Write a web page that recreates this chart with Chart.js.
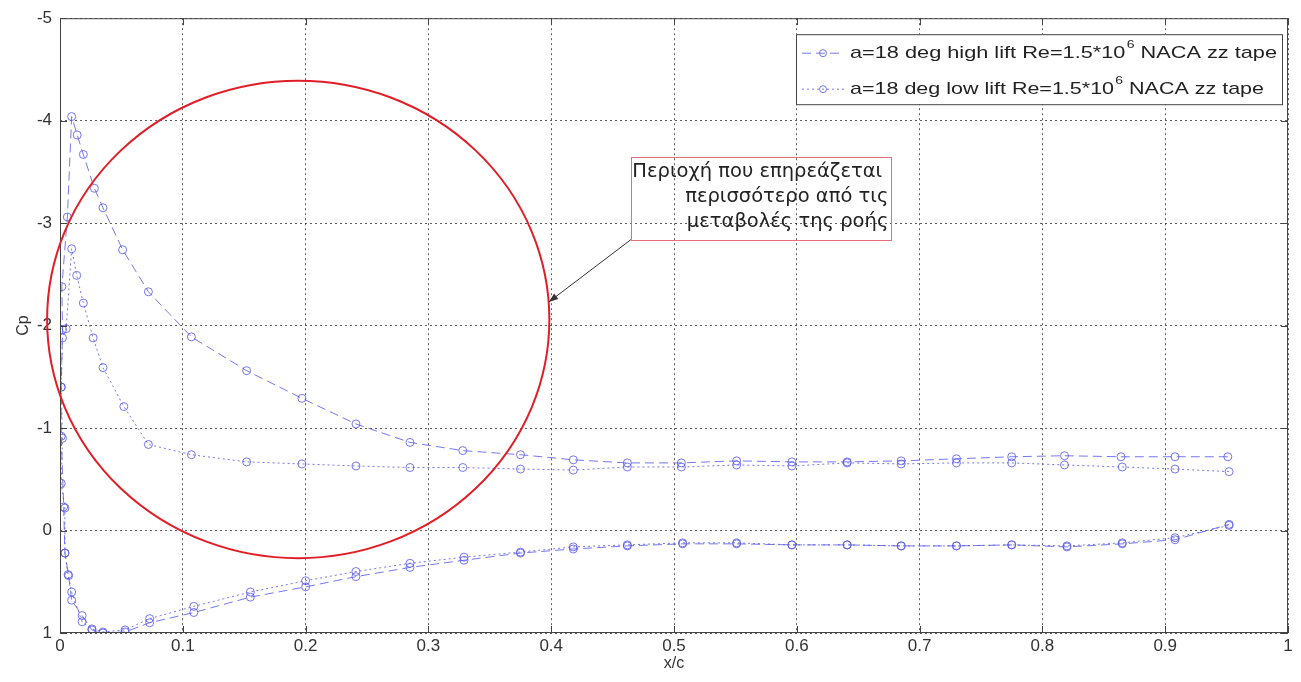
<!DOCTYPE html>
<html>
<head>
<meta charset="utf-8">
<script src="https://cdn.jsdelivr.net/npm/chart.js@4.4.0/dist/chart.umd.min.js"></script>
<style>
  html, body { margin: 0; padding: 0; background: #fff; }
  canvas { display: block; }
</style>
</head>
<body>
<canvas id="cpChart" width="1301" height="682"></canvas>
<script>
// Cp around the section, upper TE -> leading edge -> lower TE
const highX = [0.951, 0.908, 0.864, 0.818, 0.775, 0.730, 0.685, 0.641, 0.596, 0.551, 0.506, 0.462, 0.418, 0.375, 0.328, 0.285, 0.241, 0.197, 0.152, 0.107, 0.072, 0.051, 0.035, 0.028, 0.019, 0.014, 0.0095, 0.006, 0.0015, 0.002, 0.001, 0.001, 0.003, 0.004, 0.007, 0.0095, 0.018, 0.026, 0.035, 0.053, 0.073, 0.109, 0.155, 0.200, 0.241, 0.285, 0.329, 0.375, 0.418, 0.462, 0.507, 0.551, 0.596, 0.641, 0.685, 0.730, 0.775, 0.820, 0.865, 0.908, 0.952];
const highCp = [-0.72, -0.72, -0.72, -0.73, -0.72, -0.70, -0.68, -0.67, -0.67, -0.68, -0.66, -0.66, -0.69, -0.74, -0.78, -0.86, -1.04, -1.29, -1.56, -1.89, -2.33, -2.74, -3.15, -3.34, -3.67, -3.86, -4.04, -3.06, -2.38, -1.96, -1.40, -0.92, -0.23, 0.22, 0.44, 0.68, 0.83, 0.97, 1.00, 0.99, 0.90, 0.80, 0.65, 0.55, 0.45, 0.36, 0.29, 0.22, 0.18, 0.15, 0.13, 0.13, 0.14, 0.14, 0.15, 0.15, 0.14, 0.16, 0.13, 0.09, -0.06];

const lowX = [0.952, 0.908, 0.865, 0.818, 0.775, 0.730, 0.685, 0.641, 0.596, 0.551, 0.506, 0.462, 0.418, 0.375, 0.328, 0.285, 0.241, 0.197, 0.152, 0.107, 0.072, 0.052, 0.035, 0.027, 0.019, 0.0136, 0.0095, 0.005, 0.002, 0.001, 0.002, 0.001, 0.004, 0.004, 0.0066, 0.0095, 0.018, 0.026, 0.035, 0.053, 0.073, 0.109, 0.155, 0.200, 0.241, 0.285, 0.329, 0.375, 0.418, 0.462, 0.507, 0.551, 0.596, 0.641, 0.685, 0.730, 0.775, 0.820, 0.865, 0.908, 0.952];
const lowCp = [-0.575, -0.60, -0.62, -0.64, -0.66, -0.66, -0.65, -0.66, -0.63, -0.64, -0.62, -0.62, -0.59, -0.60, -0.615, -0.615, -0.63, -0.65, -0.67, -0.74, -0.84, -1.21, -1.59, -1.88, -2.22, -2.49, -2.75, -1.97, -1.88, -1.40, -0.90, -0.46, -0.22, 0.22, 0.43, 0.60, 0.89, 0.96, 0.99, 0.97, 0.86, 0.74, 0.60, 0.49, 0.40, 0.32, 0.26, 0.21, 0.16, 0.14, 0.12, 0.12, 0.14, 0.14, 0.15, 0.15, 0.14, 0.15, 0.12, 0.07, -0.05];

const xTicks = [0, 0.1, 0.2, 0.3, 0.4, 0.5, 0.6, 0.7, 0.8, 0.9, 1];
const yTicks = [-5, -4, -3, -2, -1, 0, 1];

// legend text split around the superscript exponent
const legendRows = [
  { pre: 'a=18 deg high lift Re=1.5*10', sup: '6', post: ' NACA zz tape', dash: [9, 5] },
  { pre: 'a=18 deg low lift Re=1.5*10', sup: '6', post: ' NACA zz tape', dash: [2, 3] }
];

const noteLines = ['Περιοχή που επηρεάζεται ', 'περισσότερο από τις', 'μεταβολές της ροής'];

// marked region (ellipse in data units) and the note pointing at it
const region = { cx: 0.194, cy: -2.06, rx: 0.2045, ry: 2.33 };
const noteBox = { x0: 0.465, x1: 0.677, y0: -3.65, y1: -2.84 };
const arrowTip = { x: 0.398, y: -2.23 };

const blue = 'rgba(85,85,235,0.8)';
const toPoints = (xs, ys) => xs.map((v, i) => ({ x: v, y: ys[i] }));

function line(ctx, x1, y1, x2, y2) {
  ctx.beginPath();
  ctx.moveTo(x1, y1);
  ctx.lineTo(x2, y2);
  ctx.stroke();
}

const decorations = {
  id: 'decorations',
  afterDraw(chart) {
    const { ctx, chartArea: a, scales: { x, y } } = chart;
    ctx.save();

    // axes box and inward ticks
    ctx.strokeStyle = '#444';
    ctx.lineWidth = 1;
    ctx.setLineDash([]);
    ctx.strokeRect(a.left + 0.5, a.top + 0.5, a.right - a.left - 1, a.bottom - a.top - 1);
    xTicks.forEach(v => {
      const px = Math.round(x.getPixelForValue(v)) + 0.5;
      line(ctx, px, a.bottom, px, a.bottom - 7);
      line(ctx, px, a.top, px, a.top + 7);
    });
    yTicks.forEach(v => {
      const py = Math.round(y.getPixelForValue(v)) + 0.5;
      line(ctx, a.left, py, a.left + 7, py);
      line(ctx, a.right, py, a.right - 7, py);
    });

    // red ellipse
    const cx = x.getPixelForValue(region.cx);
    const cy = y.getPixelForValue(region.cy);
    const rx = Math.abs(x.getPixelForValue(region.cx + region.rx) - cx);
    const ry = Math.abs(y.getPixelForValue(region.cy + region.ry) - cy);
    ctx.strokeStyle = 'rgb(225,30,40)';
    ctx.lineWidth = 2;
    ctx.beginPath();
    ctx.ellipse(cx, cy, rx, ry, 0, 0, Math.PI * 2);
    ctx.stroke();

    // note box
    const bx0 = x.getPixelForValue(noteBox.x0), bx1 = x.getPixelForValue(noteBox.x1);
    const by0 = y.getPixelForValue(noteBox.y0), by1 = y.getPixelForValue(noteBox.y1);
    ctx.strokeStyle = 'rgb(230,110,120)';
    ctx.lineWidth = 1;
    ctx.strokeRect(Math.round(bx0) + 0.5, Math.round(by0) + 0.5, Math.round(bx1 - bx0), Math.round(by1 - by0));

    ctx.fillStyle = '#222';
    ctx.textAlign = 'right';
    ctx.textBaseline = 'middle';
    let fs = 16;
    ctx.font = fs + 'px "DejaVu Sans"';
    const w0 = ctx.measureText(noteLines[0]).width;
    fs = fs * (bx1 - bx0 - 4) / w0;
    ctx.font = fs.toFixed(1) + 'px "DejaVu Sans"';
    const lh = (by1 - by0) / 3.3;
    noteLines.forEach((t, i) => {
      ctx.fillText(t, bx1 - 3, by0 + lh * (i + 0.62));
    });

    // arrow from the box corner to the ellipse
    const tx = x.getPixelForValue(arrowTip.x), ty = y.getPixelForValue(arrowTip.y);
    ctx.strokeStyle = '#333';
    ctx.fillStyle = '#333';
    line(ctx, bx0, by1, tx, ty);
    const ang = Math.atan2(ty - by1, tx - bx0);
    ctx.beginPath();
    ctx.moveTo(tx, ty);
    ctx.lineTo(tx - 10 * Math.cos(ang - 0.35), ty - 10 * Math.sin(ang - 0.35));
    ctx.lineTo(tx - 10 * Math.cos(ang + 0.35), ty - 10 * Math.sin(ang + 0.35));
    ctx.closePath();
    ctx.fill();

    // legend
    const lx = a.right - 492, ly = a.top + 16, lw = 486, lhgt = 70;
    ctx.fillStyle = '#fff';
    ctx.fillRect(lx, ly, lw, lhgt);
    ctx.strokeStyle = '#444';
    ctx.strokeRect(lx + 0.5, ly + 0.5, lw, lhgt);
    ctx.textAlign = 'left';
    ctx.textBaseline = 'middle';
    const mainFont = '17px "Liberation Sans"', supFont = '11px "Liberation Sans"';
    legendRows.forEach((r, i) => {
      const ry2 = ly + 19 + i * 36;
      ctx.strokeStyle = blue;
      ctx.lineWidth = 1;
      ctx.setLineDash(r.dash);
      line(ctx, lx + 6, ry2, lx + 48, ry2);
      ctx.setLineDash([]);
      ctx.beginPath();
      ctx.arc(lx + 27, ry2, 3.5, 0, Math.PI * 2);
      ctx.stroke();

      // text is drawn wide: stretch each row to its slot
      ctx.font = mainFont;
      const wPre = ctx.measureText(r.pre).width, wPost = ctx.measureText(r.post).width;
      ctx.font = supFont;
      const wSup = ctx.measureText(r.sup).width;
      const total = wPre + 1 + wSup + wPost;
      const target = i === 0 ? 427 : 414;
      ctx.save();
      ctx.translate(lx + 54, ry2);
      ctx.scale(target / total, 1);
      ctx.fillStyle = '#222';
      ctx.font = mainFont;
      ctx.fillText(r.pre, 0, 0);
      ctx.font = supFont;
      ctx.fillText(r.sup, wPre + 1, -8);
      ctx.font = mainFont;
      ctx.fillText(r.post, wPre + 1 + wSup, 0);
      ctx.restore();
    });

    ctx.restore();
  }
};

const fmt = v => String(Number(v.toFixed(1)));

new Chart('cpChart', {
  type: 'scatter',
  data: {
    datasets: [
      {
        label: 'high lift',
        data: toPoints(highX, highCp),
        showLine: true,
        borderColor: blue,
        borderWidth: 1,
        borderDash: [9, 5],
        pointRadius: 4,
        pointBorderWidth: 1,
        pointBorderColor: blue,
        pointBackgroundColor: 'rgba(0,0,0,0)'
      },
      {
        label: 'low lift',
        data: toPoints(lowX, lowCp),
        showLine: true,
        borderColor: blue,
        borderWidth: 1,
        borderDash: [2, 3],
        pointRadius: 4,
        pointBorderWidth: 1,
        pointBorderColor: blue,
        pointBackgroundColor: 'rgba(0,0,0,0)'
      }
    ]
  },
  options: {
    responsive: false,
    animation: false,
    layout: { padding: { top: 17, right: 13, left: 0, bottom: 0 } },
    plugins: { legend: { display: false }, tooltip: { enabled: false } },
    scales: {
      x: {
        type: 'linear',
        min: 0,
        max: 1,
        afterBuildTicks: s => { s.ticks = xTicks.map(v => ({ value: v })); },
        afterFit: s => { s.height = 49; },
        ticks: { callback: fmt, color: '#333', font: { family: 'Liberation Sans', size: 17 }, padding: 3, maxRotation: 0 },
        grid: { color: 'rgba(40,40,40,0.75)', drawTicks: false },
        border: { display: false, dash: [2, 3] },
        title: { display: true, text: 'x/c', color: '#333', font: { family: 'Liberation Sans', size: 16 }, padding: { top: 0, bottom: 9 } }
      },
      y: {
        type: 'linear',
        min: -5,
        max: 1,
        reverse: true,
        afterBuildTicks: s => { s.ticks = yTicks.map(v => ({ value: v })); },
        afterFit: s => { s.width = 60; },
        ticks: { color: '#333', font: { family: 'Liberation Sans', size: 17 }, padding: 8 },
        grid: { color: 'rgba(40,40,40,0.75)', drawTicks: false },
        border: { display: false, dash: [2, 3] },
        title: { display: true, text: 'Cp', color: '#333', font: { family: 'Liberation Sans', size: 16 }, padding: { top: 14, bottom: 0 } }
      }
    }
  },
  plugins: [decorations]
});
</script>
</body>
</html>
